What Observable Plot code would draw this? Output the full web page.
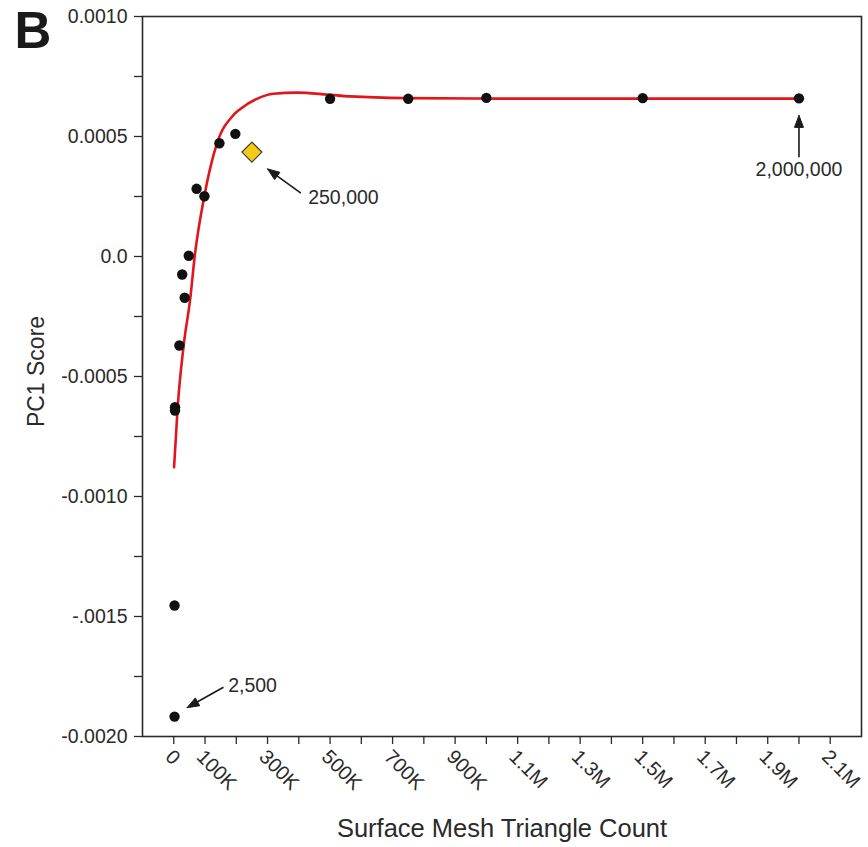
<!DOCTYPE html>
<html><head><meta charset="utf-8">
<script src="https://cdn.jsdelivr.net/npm/d3@7"></script>
<script src="https://cdn.jsdelivr.net/npm/@observablehq/plot@0.6"></script>
<style>
body{margin:0;background:#fff;font-family:"Liberation Sans",Arial,sans-serif;}
#wrap{position:relative;width:868px;height:847px;}
</style></head><body>
<div id="wrap"></div>
<script>
// ---- data ----
const meshCounts = [2500, 2500, 4000, 4000, 18000, 27000, 35000, 48000, 73000, 98000, 146000, 197000, 500000, 750000, 1000000, 1500000, 2000000];
const pc1Scores  = [-0.001917, -0.001454, -0.000628, -0.000642, -0.000371, -0.000075, -0.000172, 0.000003, 0.000282, 0.000251, 0.000472, 0.000511, 0.000657, 0.000657, 0.000661, 0.00066, 0.000659];

const refCount = [250000];
const refScore = [0.000435];

const fitCounts = [1000, 12500, 31600, 53000, 67000, 97700, 138000, 190000, 213000, 266000, 319000, 394000, 490000, 564000, 745000, 1043000, 2000000];
const fitScores = [-0.000878, -0.000628, -0.000371, -0.000172, 0.000001, 0.000251, 0.00047, 0.000588, 0.000615, 0.000657, 0.000678, 0.000683, 0.000675, 0.000667, 0.00066, 0.000658, 0.000658];

const xTickValues = d3.range(0, 22).map(i => i * 100000);
const xLabelValues = [0, 100000, 300000, 500000, 700000, 900000, 1100000, 1300000, 1500000, 1700000, 1900000, 2100000];
const xLabelTexts  = ["0", "100K", "300K", "500K", "700K", "900K", "1.1M", "1.3M", "1.5M", "1.7M", "1.9M", "2.1M"];

const yTickValues = d3.range(-8, 5).map(i => i * 0.00025);
const yLabelValues = [0.001, 0.0005, 0, -0.0005, -0.001, -0.0015, -0.002];
const yLabelTexts  = ["0.0010", "0.0005", "0.0", "-0.0005", "-0.0010", "-.0015", "-0.0020"];

const annotationTexts  = ["2,500", "250,000", "2,000,000"];
const annotationTailX  = [159000, 406600, 2000000];
const annotationTailY  = [-0.001795, 0.000264, 0.000414];
const annotationHeadX  = [42500, 300000, 2000000];
const annotationHeadY  = [-0.00188, 0.000365, 0.000588];
const annotationLabelX = [174000, 430000, 2000000];
const annotationLabelY = [-0.001788, 0.000246, 0.00036];
const annotationAnchor = ["start", "start", "middle"];

const panelLabel = "B";

// ---- layout ----
const W = 868, H = 847, mL = 142, mR = 7, mT = 16, mB = 111;
const xDomain = [-100000, 2200000], yDomain = [-0.002, 0.001];
const font = "'Liberation Sans', Arial, Helvetica, sans-serif";
const ink = "#2a2a2a";

const points = meshCounts.map((c, i) => ({count: c, score: pc1Scores[i]}));
const ref = refCount.map((c, i) => ({count: c, score: refScore[i]}));
const fit = fitCounts.map((c, i) => ({count: c, score: fitScores[i]}));
const ann = annotationTexts.map((t, i) => ({
  text: t, x1: annotationTailX[i], y1: annotationTailY[i], x2: annotationHeadX[i], y2: annotationHeadY[i],
  lx: annotationLabelX[i], ly: annotationLabelY[i], anchor: annotationAnchor[i]
}));

const xLabelMap = new Map(xLabelValues.map((v, i) => [v, xLabelTexts[i]]));
const yLabelMap = new Map(yLabelValues.map((v, i) => [Math.round(v * 1e5), yLabelTexts[i]]));

// arrowheads: computed from scales (filled triangles)
const sx = Plot.scale({x: {domain: xDomain, range: [mL, W - mR]}});
const sy = Plot.scale({y: {domain: yDomain, range: [H - mB, mT]}});
const headLen = 12, headHalf = 4.5;
const heads = [];
const shafts = [];
ann.forEach((a, i) => {
  const tx = sx.apply(a.x1), ty = sy.apply(a.y1), hx = sx.apply(a.x2), hy = sy.apply(a.y2);
  const dx = hx - tx, dy = hy - ty, n = Math.hypot(dx, dy), ux = dx / n, uy = dy / n;
  const bx = hx - ux * headLen, by = hy - uy * headLen;
  const pts = [[hx, hy], [bx - uy * headHalf, by + ux * headHalf], [bx + uy * headHalf, by - ux * headHalf], [hx, hy]];
  pts.forEach(([px, py]) => heads.push({id: i, x: sx.invert(px), y: sy.invert(py)}));
  shafts.push({x1: a.x1, y1: a.y1, x2: sx.invert(bx + ux * 2), y2: sy.invert(by + uy * 2)});
});

const chart = Plot.plot({
  width: W, height: H,
  marginLeft: mL, marginRight: mR, marginTop: mT, marginBottom: mB,
  style: {fontFamily: font, color: ink, background: "transparent"},
  x: {domain: xDomain},
  y: {domain: yDomain},
  marks: [
    Plot.axisY({ticks: yTickValues, tickFormat: d => yLabelMap.get(Math.round(d * 1e5)) ?? "", tickSize: 8, tickPadding: 7, fontSize: 19.5, label: null, strokeWidth: 1.3}),
    Plot.axisX({ticks: xTickValues, tickFormat: () => "", tickSize: 8, label: null, strokeWidth: 1.3}),
    Plot.axisX({ticks: xLabelValues, tickFormat: d => xLabelMap.get(d) ?? "", tickSize: 0, tickPadding: 14, tickRotate: 45, fontSize: 20, label: null, dx: -5, dy: 3}),
    Plot.frame({stroke: ink, strokeWidth: 1.6}),
    Plot.line(fit, {x: "count", y: "score", curve: "monotone-x", stroke: "#e0161b", strokeWidth: 2.6}),
    Plot.dot(points, {x: "count", y: "score", r: 5.2, fill: "#111", stroke: "none"}),
    Plot.dot(ref, {x: "count", y: "score", symbol: "diamond2", r: 9, fill: "#f4ca16", stroke: "#3a3a3a", strokeWidth: 1.2}),
    Plot.link(shafts, {x1: "x1", y1: "y1", x2: "x2", y2: "y2", stroke: "#1a1a1a", strokeWidth: 1.6}),
    Plot.line(heads, {x: "x", y: "y", z: "id", fill: "#1a1a1a", stroke: "#1a1a1a", strokeWidth: 1, curve: "linear"}),
    Plot.text(ann.filter(d => d.anchor === "start"), {x: "lx", y: "ly", text: "text", textAnchor: "start", lineAnchor: "middle", fontSize: 19.5, fill: ink}),
    Plot.text(ann.filter(d => d.anchor === "middle"), {x: "lx", y: "ly", text: "text", textAnchor: "middle", lineAnchor: "middle", fontSize: 19.5, fill: ink}),
    Plot.text(["Surface Mesh Triangle Count"], {frameAnchor: "bottom", dy: 92, textAnchor: "middle", lineAnchor: "middle", fontSize: 25.5, fill: ink}),
    Plot.text(["PC1 Score"], {frameAnchor: "left", dx: -106, dy: -5, rotate: -90, textAnchor: "middle", lineAnchor: "middle", fontSize: 23, fill: ink}),
    Plot.text([panelLabel], {frameAnchor: "top-left", dx: -128, dy: -5, textAnchor: "start", lineAnchor: "top", fontSize: 51, fontWeight: "bold", fill: "#1a1a1a"})
  ]
});
document.getElementById("wrap").appendChild(chart);
</script>
</body></html>
